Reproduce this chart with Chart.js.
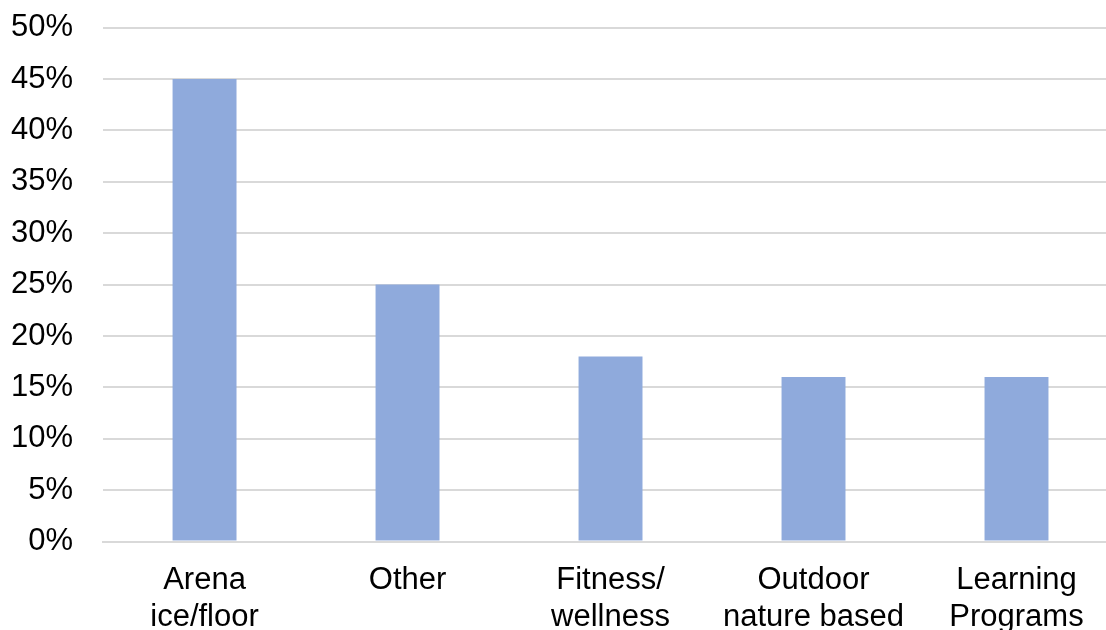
<!DOCTYPE html>
<html>
<head>
<meta charset="utf-8">
<script src="https://cdn.jsdelivr.net/npm/chart.js@4/dist/chart.umd.min.js"></script>
<style>
html,body{margin:0;padding:0;background:#fff;overflow:hidden;}
#wrap{position:relative;width:1106px;height:630px;overflow:hidden;}
#c{position:absolute;left:-19px;top:-21px;}
</style>
</head>
<body>
<div id="wrap"><canvas id="c" width="1137" height="677"></canvas></div>
<script>
const categories = [["Arena","ice/floor"],["Other"],["Fitness/","wellness"],["Outdoor","nature based"],["Learning","Programs"]];
const values = [45, 25, 18, 16, 16];
const yTicksMax = 50;
const yTickStep = 5;

const FONT = "'Liberation Sans', Arial, sans-serif";

new Chart(document.getElementById('c'), {
  type: 'bar',
  data: {
    labels: categories,
    datasets: [{
      data: values,
      backgroundColor: '#8FAADC',
      borderWidth: 0,
      barPercentage: 0.315,
      categoryPercentage: 1.0
    }]
  },
  options: {
    responsive: false,
    animation: false,
    devicePixelRatio: 1,
    layout: { padding: { top: 10, right: 0, left: 0, bottom: 0 } },
    plugins: { legend: { display: false }, tooltip: { enabled: false } },
    scales: {
      x: {
        grid: { display: false, drawTicks: false },
        border: { display: true, color: '#D9D9D9', width: 2 },
        ticks: {
          color: '#000',
          font: { family: FONT, size: 31, lineHeight: 1.2 },
          padding: 20,
          maxRotation: 0,
          autoSkip: false
        }
      },
      y: {
        min: 0,
        max: yTicksMax,
        grid: { color: '#D9D9D9', lineWidth: 2, drawTicks: false },
        border: { display: false },
        ticks: {
          stepSize: yTickStep,
          color: '#000',
          font: { family: FONT, size: 31 },
          padding: 30,
          callback: v => v + '%'
        }
      }
    }
  }
});
</script>
</body>
</html>
